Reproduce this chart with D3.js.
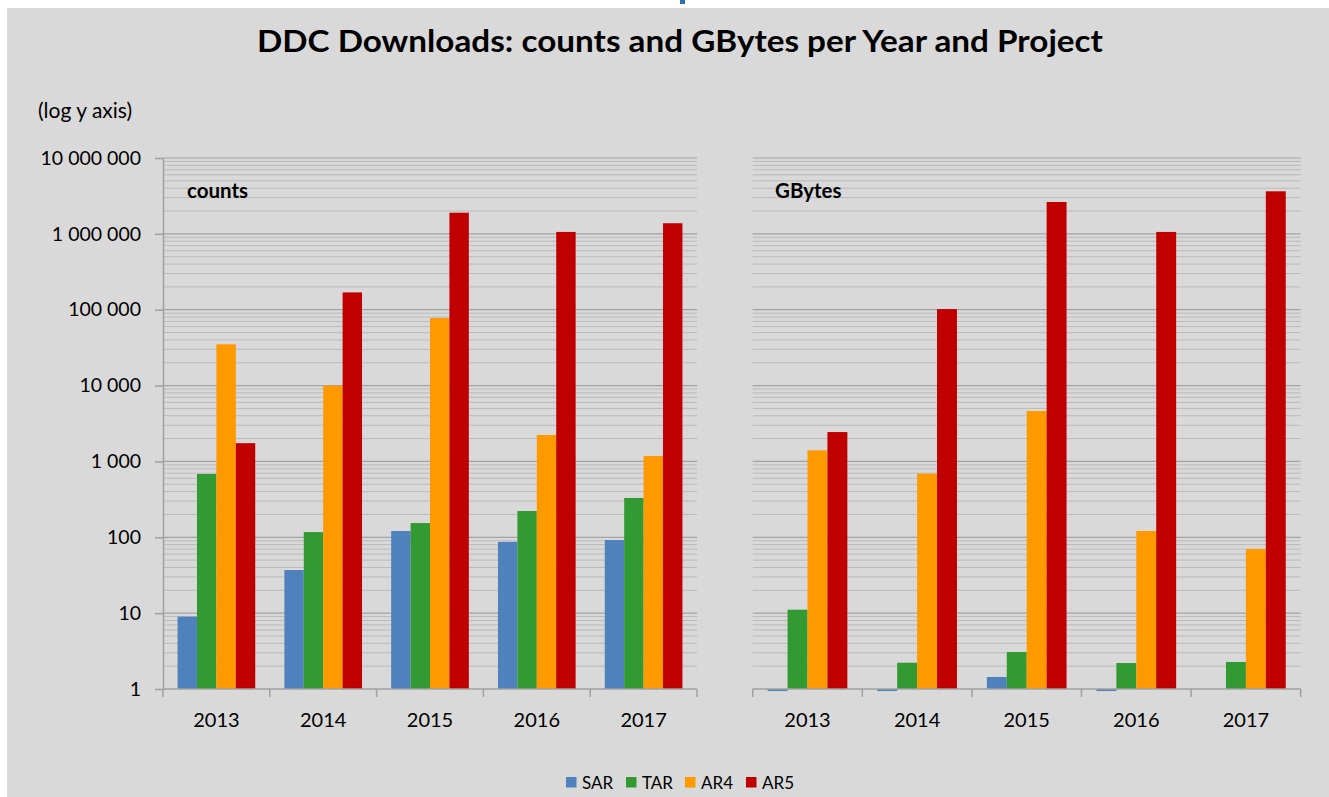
<!DOCTYPE html>
<html>
<head>
<meta charset="utf-8">
<script src="https://cdn.jsdelivr.net/npm/d3@7"></script>
<style>
body{margin:0;background:#fff;}
text{font-family:Lato,"Open Sans",sans-serif;fill:#000;}
</style>
</head>
<body>
<script>
// data
const years=["2013","2014","2015","2016","2017"];
const projects=["SAR","TAR","AR4","AR5"];
const colors=["#4f81bd","#339933","#ff9900","#c00000"];
// counts per project (rows follow projects, columns follow years)
const countsSAR=[9,37,121,87,92];
const countsTAR=[683,117,154,222,330];
const countsAR4=[35000,10000,77700,2230,1180];
const countsAR5=[1740,169000,1900000,1060000,1380000];
// GBytes per project; SAR values under 1 are drawn downward from the axis
const gbSAR=[0.94,0.94,1.44,0.94,null];
const gbTAR=[11.1,2.22,3.07,2.2,2.27];
const gbAR4=[1400,690,4620,121,70];
const gbAR5=[2440,102000,2630000,1060000,3640000];
const yTicks=[1,10,100,1000,10000,100000,1000000,10000000];

const counts=[countsSAR,countsTAR,countsAR4,countsAR5];
const gbytes=[gbSAR,gbTAR,gbAR4,gbAR5];

const w=1329,h=797;
const svg=d3.select("body").append("svg").attr("width",w).attr("height",h);

// background
svg.append("rect").attr("x",7).attr("y",8).attr("width",w-7).attr("height",h-8).attr("fill","#d9d9d9");
svg.append("rect").attr("x",680).attr("y",0).attr("width",5).attr("height",4).attr("fill","#2e6db4");

const y=d3.scaleLog().domain([1,1e7]).range([689,158]);

// minor grid values (2..9 per decade)
const minor=[];
for(let e=0;e<7;e++){for(let k=2;k<10;k++){minor.push(k*Math.pow(10,e));}}

function panel(x0,x1,data,label,labelX,showAxis){
  const g=svg.append("g");
  const x=d3.scaleBand().domain(years).range([x0,x1]);
  const xs=d3.scaleBand().domain(projects).range([0,x.bandwidth()]).paddingOuter(0.75);

  g.selectAll(".minor").data(minor).enter().append("line")
    .attr("x1",x0).attr("x2",x1).attr("y1",d=>y(d)).attr("y2",d=>y(d))
    .attr("stroke","#bababa").attr("stroke-width",1);
  g.selectAll(".major").data(yTicks.slice(1)).enter().append("line")
    .attr("x1",x0).attr("x2",x1).attr("y1",d=>y(d)).attr("y2",d=>y(d))
    .attr("stroke","#a3a3a3").attr("stroke-width",1.2);

  projects.forEach((p,i)=>{
    g.selectAll(".b"+p).data(years.map((yr,j)=>({yr:yr,v:data[i][j]})).filter(d=>d.v!=null))
      .enter().append("rect")
      .attr("x",d=>x(d.yr)+xs(p))
      .attr("width",xs.bandwidth())
      .attr("y",d=>Math.min(y(d.v),y(1)))
      .attr("height",d=>Math.abs(y(1)-y(d.v)))
      .attr("fill",colors[i]);
  });

  // x axis line + ticks between categories
  g.append("line").attr("x1",x0).attr("x2",x1).attr("y1",y(1)).attr("y2",y(1))
    .attr("stroke","#a0a0a0").attr("stroke-width",1.5);
  g.selectAll(".xt").data(years.map(d=>x(d)).concat([x1])).enter().append("line")
    .attr("x1",d=>d).attr("x2",d=>d).attr("y1",y(1)).attr("y2",y(1)+8)
    .attr("stroke","#a0a0a0").attr("stroke-width",1.5);
  g.selectAll(".xl").data(years).enter().append("text")
    .attr("x",d=>x(d)+x.bandwidth()/2).attr("y",727)
    .attr("text-anchor","middle").attr("font-size",20).text(d=>d);

  if(showAxis){
    const axis=d3.axisLeft(y).tickValues(yTicks).tickSize(8).tickSizeOuter(0).tickPadding(14)
      .tickFormat(d=>d3.format(",")(d).replace(/,/g," "));
    const ag=g.append("g").attr("transform","translate("+x0+",0)").call(axis);
    ag.select(".domain").attr("stroke","#a0a0a0").attr("stroke-width",1.5);
    ag.selectAll(".tick line").attr("stroke","#a0a0a0").attr("stroke-width",1.5);
    ag.selectAll(".tick text").attr("font-size",19.5).attr("font-family","Lato,sans-serif").attr("fill","#000");
  }

  g.append("text").attr("x",labelX).attr("y",198).attr("font-size",20.5)
    .attr("font-weight","bold").text(label);
}

panel(163,697,counts,"counts",187,true);
panel(752.7,1300.7,gbytes,"GBytes",775,false);

// title
svg.append("text").attr("x",680).attr("y",52).attr("text-anchor","middle")
  .attr("font-size",30).attr("font-weight","bold")
  .attr("textLength",846).attr("lengthAdjust","spacingAndGlyphs")
  .text("DDC Downloads: counts and GBytes per Year and Project");

svg.append("text").attr("x",38).attr("y",118).attr("font-size",21).text("(log y axis)");

// legend
const legendX=[566,626,685,746];
const lg=svg.append("g");
projects.forEach((p,i)=>{
  lg.append("rect").attr("x",legendX[i]).attr("y",777).attr("width",10.5).attr("height",10.5).attr("fill",colors[i]);
  lg.append("text").attr("x",legendX[i]+16).attr("y",788.5).attr("font-size",17).text(p);
});
</script>
</body>
</html>
